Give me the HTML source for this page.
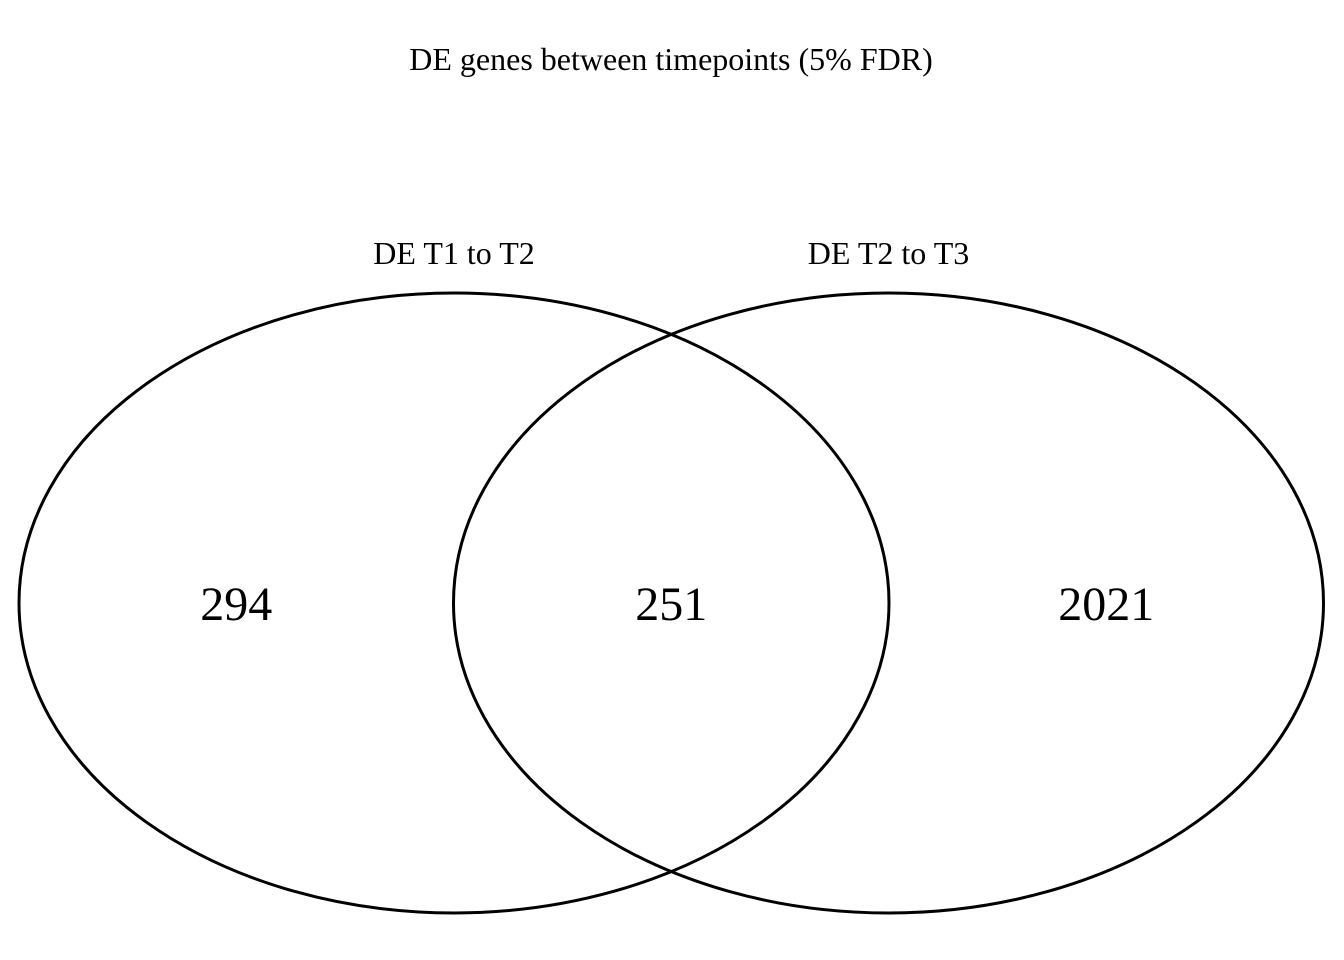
<!DOCTYPE html>
<html><head><meta charset="utf-8"><style>
html,body{margin:0;padding:0;background:#fff;}
svg{display:block;font-family:"Liberation Serif",serif;}
</style></head><body>
<svg id="venn" width="1344" height="960" viewBox="0 0 1344 960" xmlns="http://www.w3.org/2000/svg">
<text x="671" y="70" font-size="32" text-anchor="middle">DE genes between timepoints (5% FDR)</text>
</svg>
<script>
const setNames = ["DE T1 to T2", "DE T2 to T3"];
const regionLabels = ["294", "251", "2021"];
const svg = document.getElementById('venn');
const NS = 'http://www.w3.org/2000/svg';
const cx = [454, 888.5], cy = 603, rx = 435, ry = 310;
for (let i = 0; i < setNames.length; i++) {
  const e = document.createElementNS(NS, 'ellipse');
  
  
  e.setAttribute('cx', cx[i]); e.setAttribute('cy', cy);
  e.setAttribute('rx', rx); e.setAttribute('ry', ry);
  e.setAttribute('fill', 'none'); e.setAttribute('stroke', '#000'); e.setAttribute('stroke-width', '3');
  svg.appendChild(e);
  const t = document.createElementNS(NS, 'text');
  
  
  t.setAttribute('x', cx[i]); t.setAttribute('y', 264);
  t.setAttribute('font-size', '32'); t.setAttribute('text-anchor', 'middle');
  t.textContent = setNames[i];
  svg.appendChild(t);
}
const rxPos = [(cx[0] - rx + cx[1] - rx) / 2, (cx[0] + cx[1]) / 2, (cx[0] + rx + cx[1] + rx) / 2];
for (let i = 0; i < regionLabels.length; i++) {
  const t = document.createElementNS(NS, 'text');
  
  
  t.setAttribute('x', rxPos[i]); t.setAttribute('y', 620);
  t.setAttribute('font-size', '48'); t.setAttribute('text-anchor', 'middle');
  t.textContent = regionLabels[i];
  svg.appendChild(t);
}
</script>
</body></html>
